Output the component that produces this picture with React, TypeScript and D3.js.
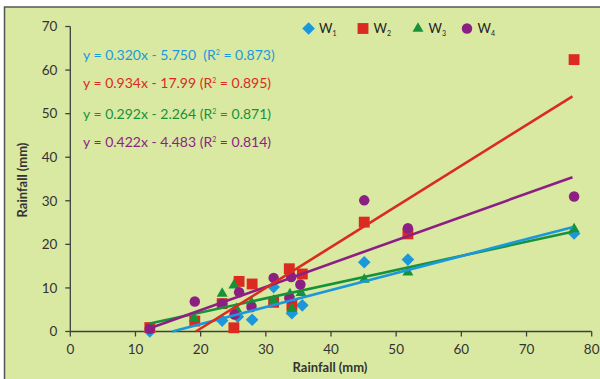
import React from "react";
import * as d3 from "d3";

// series values (x = rainfall, y = rainfall)
const seriesNames = ["W1", "W2", "W3", "W4"];
const seriesColors = ["#1b98dc", "#db2a1f", "#17923b", "#8c1f84"];

const w1X = [12.2, 23.3, 25.7, 27.9, 31.2, 34.0, 35.6, 45.1, 51.8, 77.3];
const w1Y = [0.0, 2.5, 3.4, 2.7, 10.2, 4.2, 6.0, 15.9, 16.5, 22.5];

const w2X = [12.2, 19.1, 23.3, 25.1, 25.9, 27.9, 31.2, 33.6, 34.0, 35.6, 45.1, 51.8, 77.3];
const w2Y = [0.9, 2.4, 6.4, 0.85, 11.5, 10.9, 6.7, 14.4, 6.0, 13.2, 25.1, 22.4, 62.4];

const w3X = [12.2, 19.0, 23.3, 25.1, 25.5, 27.8, 31.2, 33.7, 34.0, 35.4, 45.1, 51.8, 77.3];
const w3Y = [0.6, 3.0, 8.7, 10.6, 5.2, 6.7, 7.1, 8.6, 5.2, 8.9, 11.9, 13.6, 23.5];

const w4X = [12.2, 19.1, 23.3, 25.2, 25.9, 27.8, 31.2, 33.6, 33.9, 35.3, 45.1, 51.8, 77.3];
const w4Y = [0.6, 6.9, 6.4, 3.9, 9.0, 5.6, 12.3, 7.7, 12.5, 10.8, 30.1, 23.7, 31.0];

// trend lines as drawn in the picture
const trendSlope = [0.39, 0.934, 0.325, 0.535];
const trendIntercept = [-6.1, -17.99, -2.15, -5.8];

const eqMain = ["y = 0.320x - 5.750  (R", "y = 0.934x - 17.99 (R", "y = 0.292x - 2.264 (R", "y = 0.422x - 4.483 (R"];
const eqTail = [" = 0.873)", " = 0.895)", " = 0.871)", " = 0.814)"];

const xTicks = [0, 10, 20, 30, 40, 50, 60, 70, 80];
const yTicks = [0, 10, 20, 30, 40, 50, 60, 70];

const FONT = "Lato, 'Open Sans', sans-serif";

export default function App() {
  const W = 600, H = 379;
  const x = d3.scaleLinear().domain([0, 80]).range([70.3, 591.7]);
  const y = d3.scaleLinear().domain([0, 70]).range([331.5, 26.5]);

  const xs = [w1X, w2X, w3X, w4X];
  const ys = [w1Y, w2Y, w3Y, w4Y];

  const symbols = [
    d3.symbol().type(d3.symbolSquare).size(80)(),
    d3.symbol().type(d3.symbolSquare).size(118)(),
    d3.symbol().type(d3.symbolTriangle).size(52)(),
    d3.symbol().type(d3.symbolCircle).size(86)(),
  ];
  const symRot = [45, 0, 0, 0];

  const line = d3.line<[number, number]>().x((d) => x(d[0])).y((d) => y(d[1]));

  const trend = (i: number) => {
    const m = trendSlope[i], b = trendIntercept[i];
    let x0 = d3.min(xs[i])!;
    const x1 = d3.max(xs[i])! - 0.25;
    if (m * x0 + b < 0) x0 = -b / m;
    return line([[x0, m * x0 + b], [x1, m * x1 + b]]);
  };

  const legendX = [308.6, 363, 418, 467];

  return (
    <svg width={W} height={H} style={{ position: "absolute", left: 0, top: 0 }} fontFamily={FONT}>
      <rect x={0} y={0} width={W} height={H} fill="#ffffff" />
      <rect x={4.5} y={7} width={W} height={H} fill="#d9e9a1" stroke="#555" strokeWidth={1.5} />

      {/* axes */}
      <g stroke="#404040" strokeWidth={1.3}>
        <line x1={x(0)} x2={x(0)} y1={y(70)} y2={y(0)} />
        <line x1={x(0)} x2={x(80)} y1={y(0)} y2={y(0)} />
        {yTicks.map((t) => (
          <line key={"yt" + t} x1={x(0) - 5} x2={x(0)} y1={y(t)} y2={y(t)} />
        ))}
        {xTicks.map((t) => (
          <line key={"xt" + t} x1={x(t)} x2={x(t)} y1={y(0)} y2={y(0) + 5} />
        ))}
      </g>
      <g fontSize={13.5} fill="#333">
        {yTicks.map((t) => (
          <text key={"yl" + t} x={x(0) - 13} y={y(t)} dy="0.35em" textAnchor="end">{t}</text>
        ))}
        {xTicks.map((t) => (
          <text key={"xl" + t} x={x(t)} y={y(0) + 18} dy="0.35em" textAnchor="middle">{t}</text>
        ))}
      </g>
      <text x={330} y={367} dy="0.35em" textAnchor="middle" fontSize={13} fontWeight="bold" fill="#333">Rainfall (mm)</text>
      <text transform={`translate(22,180) rotate(-90)`} dy="0.35em" textAnchor="middle" fontSize={13} fontWeight="bold" fill="#333">Rainfall (mm)</text>

      {/* markers */}
      {xs.map((sx, i) => (
        <g key={"s" + i} fill={seriesColors[i]}>
          {sx.map((v, j) => (
            <path key={j} d={symbols[i]!} transform={`translate(${x(v)},${y(ys[i][j])}) rotate(${symRot[i]})`} />
          ))}
        </g>
      ))}

      {/* trend lines */}
      {[2, 0, 3, 1].map((i) => (
        <path key={"tl" + i} d={trend(i)!} fill="none" stroke={seriesColors[i]} strokeWidth={2.6} />
      ))}

      {/* equations */}
      {eqMain.map((s, i) => (
        <text key={"eq" + i} x={83} y={[55, 83.5, 114, 141.7][i]} dy="0.35em" fontSize={14} fill={seriesColors[i]} style={{ whiteSpace: "pre" }}>
          {s}
          <tspan fontSize={7} dy={-5}>2</tspan>
          <tspan dy={5}>{eqTail[i]}</tspan>
        </text>
      ))}

      {/* legend */}
      {seriesNames.map((n, i) => (
        <g key={"lg" + i}>
          <path d={symbols[i]!} fill={seriesColors[i]} transform={`translate(${legendX[i]},28.5) rotate(${symRot[i]})`} />
          <text x={legendX[i] + 10.5} y={28.5} dy="0.35em" fontSize={13} fill="#222">
            {n.slice(0, 1)}
            <tspan fontSize={7} dy={3}>{n.slice(1)}</tspan>
          </text>
        </g>
      ))}
    </svg>
  );
}
